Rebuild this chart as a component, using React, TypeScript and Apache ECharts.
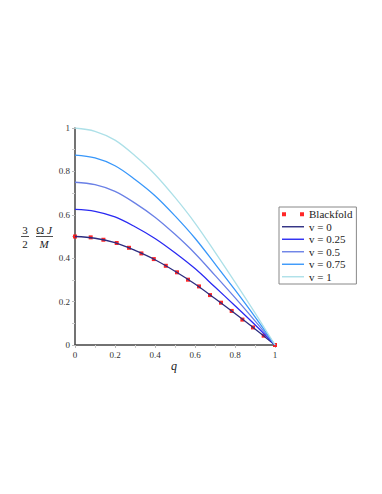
import React, { useEffect, useRef } from "react";
import * as echarts from "echarts";

const qGrid = [0, 0.1, 0.2, 0.3, 0.4, 0.5, 0.6, 0.7, 0.8, 0.9, 1];
const v0 = [0.5, 0.492, 0.472, 0.436, 0.393, 0.34, 0.281, 0.214, 0.145, 0.074, 0];
const v025 = [0.625, 0.616, 0.59, 0.545, 0.491, 0.425, 0.352, 0.267, 0.181, 0.093, 0];
const v05 = [0.75, 0.739, 0.708, 0.654, 0.589, 0.51, 0.422, 0.321, 0.218, 0.111, 0];
const v075 = [0.875, 0.862, 0.826, 0.763, 0.688, 0.595, 0.492, 0.374, 0.254, 0.13, 0];
const v1 = [1, 0.985, 0.944, 0.872, 0.786, 0.68, 0.562, 0.428, 0.29, 0.148, 0];

const blackfoldQ = [0, 0.0785, 0.142, 0.2085, 0.27, 0.332, 0.394, 0.454, 0.51, 0.565, 0.62, 0.675, 0.73, 0.7835, 0.837, 0.89, 0.9435, 1];
const blackfoldY = [0.5, 0.496, 0.485, 0.47, 0.448, 0.422, 0.396, 0.365, 0.335, 0.301, 0.27, 0.23, 0.195, 0.157, 0.117, 0.081, 0.043, 0];

const xTicks = { min: 0, max: 1, interval: 0.2 };
const yTicks = { min: 0, max: 1, interval: 0.2 };

const curves = [
  { name: "v = 0", values: v0, color: "#2c2c80" },
  { name: "v = 0.25", values: v025, color: "#2a2af2" },
  { name: "v = 0.5", values: v05, color: "#6a80e6" },
  { name: "v = 0.75", values: v075, color: "#3897fa" },
  { name: "v = 1", values: v1, color: "#ade0e8" },
];

const SERIF = "'Liberation Serif', 'DejaVu Serif', serif";
const LINE_W = 1.3;

export default function App() {
  const ref = useRef<HTMLDivElement>(null);
  useEffect(() => {
    if (!ref.current) return;
    const chart = echarts.init(ref.current, null, { renderer: "svg" });
    const axisCommon = {
      type: "value" as const,
      splitLine: { show: false },
      axisLine: { show: true, lineStyle: { color: "#444", width: 1.5 } },
      axisTick: { show: true, length: 3, lineStyle: { color: "#bbb" } },
      minorTick: { show: true, splitNumber: 2, length: 3, lineStyle: { color: "#ccc" } },
      axisLabel: { fontSize: 9, fontFamily: SERIF, color: "#333", margin: 5 },
    };
    const lineSeries = curves.map((c) => ({
      name: c.name,
      type: "line",
      data: qGrid.map((q, i) => [q, c.values[i]]),
      smooth: 0.35,
      symbol: "none",
      showSymbol: false,
      color: c.color,
      lineStyle: { color: c.color, width: LINE_W },
      z: 3,
    }));
    chart.setOption({
      animation: false,
      grid: { left: 75, right: 107, top: 128, bottom: 149 },
      xAxis: { ...axisCommon, ...xTicks },
      yAxis: { ...axisCommon, ...yTicks },
      legend: {
        orient: "vertical",
        left: 279,
        top: 207,
        padding: [1, 4, 1, 3],
        itemGap: 0,
        itemWidth: 22,
        itemHeight: 4,
        borderColor: "#888",
        borderWidth: 1,
        textStyle: { fontSize: 11, fontFamily: SERIF, color: "#222", lineHeight: 12.5 },
        data: [
          { name: "Blackfold", icon: "path://M0,0h4v4h-4zM18,0h4v4h-4z" },
          ...curves.map((c) => ({ name: c.name, icon: "path://M0,0H22V1.4H0Z" })),
        ],
      },
      series: [
        {
          name: "Blackfold",
          type: "scatter",
          data: blackfoldQ.map((q, i) => [q, blackfoldY[i]]),
          symbol: "rect",
          symbolSize: 4,
          itemStyle: { color: "#ff1010", opacity: 0.9 },
          z: 2,
        },
        ...lineSeries,
      ],
      graphic: [
        { type: "text", x: 25, y: 230, style: { text: "3", font: `11px ${SERIF}`, fill: "#222", align: "center", verticalAlign: "middle" } },
        { type: "line", shape: { x1: 21, y1: 236.5, x2: 29, y2: 236.5 }, style: { stroke: "#222", lineWidth: 0.8 } },
        { type: "text", x: 25, y: 243.5, style: { text: "2", font: `11px ${SERIF}`, fill: "#222", align: "center", verticalAlign: "middle" } },
        {
          type: "text",
          x: 44,
          y: 230,
          style: {
            text: "{r|Ω }{i|J}",
            align: "center",
            verticalAlign: "middle",
            rich: {
              r: { font: `11px ${SERIF}`, fill: "#222" },
              i: { font: `italic 11px ${SERIF}`, fill: "#222" },
            },
          },
        },
        { type: "line", shape: { x1: 36, y1: 236.5, x2: 53, y2: 236.5 }, style: { stroke: "#222", lineWidth: 0.8 } },
        { type: "text", x: 44, y: 243.5, style: { text: "M", font: `italic 11px ${SERIF}`, fill: "#222", align: "center", verticalAlign: "middle" } },
        { type: "text", x: 174, y: 366, style: { text: "q", font: `italic 12px ${SERIF}`, fill: "#222", align: "center", verticalAlign: "middle" } },
      ],
    });
    return () => chart.dispose();
  }, []);
  return <div ref={ref} style={{ position: "absolute", left: 0, top: 0, width: 382, height: 494 }} />;
}
